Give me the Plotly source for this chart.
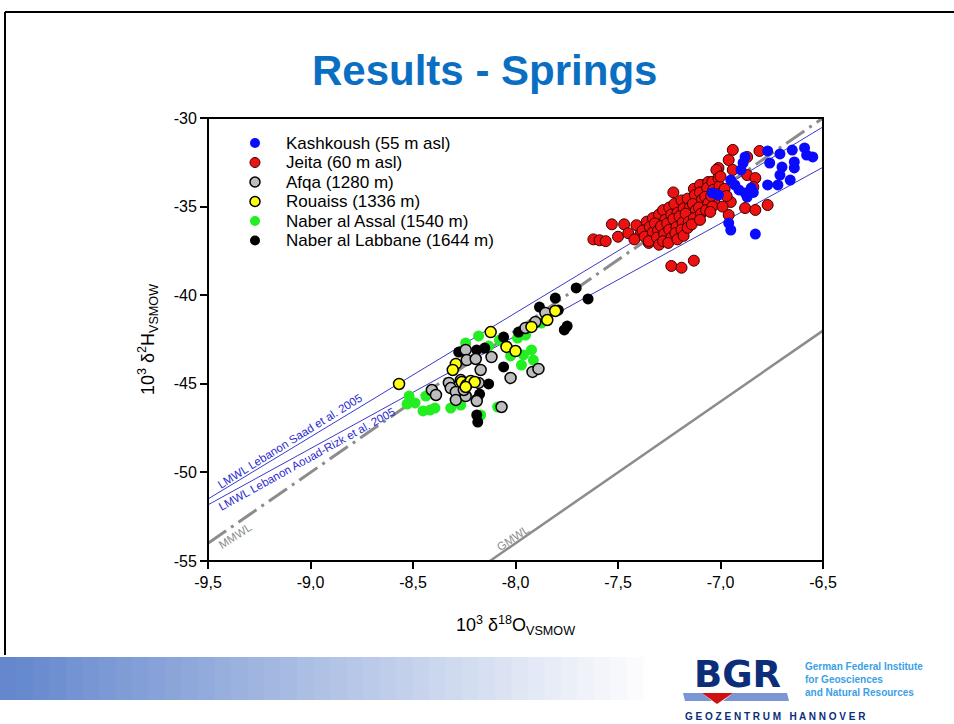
import plotly.graph_objects as go

# ---------------- data ----------------
kash_x = [-6.77, -6.71, -6.65, -6.59, -6.55, -6.58, -6.64, -6.64, -6.70, -6.71, -6.76, -6.77, -6.72, -6.66,
          -6.89, -6.90, -6.95, -6.93, -6.91, -6.88, -6.85, -6.87, -7.04, -7.01, -6.96, -6.95, -6.83, -6.88, -6.84]
kash_y = [-31.86, -32.03, -31.81, -31.69, -32.20, -32.09, -32.48, -32.82, -32.77, -33.22, -32.54, -33.78, -33.78, -33.50,
          -32.54, -32.93, -33.50, -33.78, -34.06, -34.23, -33.95, -34.46, -34.23, -34.35, -35.93, -36.32, -36.55, -32.20, -34.20]

jeita_x = [-7.62, -7.59, -7.56, -7.53, -7.47, -7.50, -7.45,
           -7.24, -7.19, -7.13, -7.23,
           -6.95, -6.88, -6.83, -6.77, -6.96,
           -6.81, -6.87, -6.96, -7.01, -6.94, -6.87, -6.83, -6.84,
           -7.03, -7.08, -7.10, -7.02, -7.13, -7.10, -7.06, -6.94,
           -7.41, -7.39, -7.42,
           -7.36, -7.38, -7.37, -7.35,
           -7.33, -7.345, -7.33, -7.35,
           -7.30, -7.32, -7.305, -7.31, -7.30,
           -7.28, -7.27, -7.29, -7.275, -7.28,
           -7.25, -7.24, -7.26, -7.25, -7.24, -7.255,
           -7.225, -7.21, -7.23, -7.215, -7.22, -7.21,
           -7.19, -7.18, -7.20, -7.185, -7.19, -7.18,
           -7.16, -7.15, -7.17, -7.155, -7.16,
           -7.125, -7.135, -7.12, -7.13, -7.14,
           -7.10, -7.09, -7.105, -7.095, -7.10,
           -7.065, -7.075, -7.06, -7.07,
           -7.04, -7.035, -7.045, -7.04,
           -7.01, -7.005, -7.015,
           -7.00, -6.98, -6.97, -6.99, -7.05]
jeita_y = [-36.85, -36.90, -36.95, -36.00, -36.00, -36.70, -36.50,
           -38.35, -38.45, -38.05, -34.20,
           -34.74, -35.08, -35.19, -34.91, -35.47,
           -31.86, -32.20, -32.37, -32.82, -32.93, -33.22, -33.39, -33.90,
           -34.74, -33.78, -34.74, -32.93, -34.00, -33.78, -33.61, -31.80,
           -36.05, -36.55, -36.85,
           -35.85, -36.35, -36.70, -37.05,
           -35.65, -36.15, -36.45, -36.95,
           -35.45, -35.95, -36.35, -36.75, -37.15,
           -35.20, -35.75, -36.10, -36.55, -36.95,
           -35.05, -35.45, -35.95, -36.30, -36.75, -37.05,
           -34.85, -35.35, -35.70, -36.15, -36.50, -36.85,
           -34.65, -35.10, -35.55, -35.90, -36.30, -36.65,
           -34.55, -35.05, -35.40, -35.85, -36.20,
           -34.35, -34.85, -35.20, -35.65, -36.00,
           -34.20, -34.60, -35.05, -35.40, -35.75,
           -33.95, -34.45, -34.80, -35.20,
           -33.60, -34.05, -34.40, -35.00,
           -33.40, -33.85, -34.30,
           -33.30, -34.00, -34.40, -35.00, -35.30]

afqa_x = [-8.243, -8.238, -8.194, -8.117, -8.170, -8.024, -7.917, -7.888, -8.068, -8.325, -8.316, -8.408,
          -8.388, -8.291, -8.291, -8.243, -8.189, -8.180, -7.951, -7.903, -7.854, -8.267, -8.252]
afqa_y = [-43.09, -43.66, -43.60, -43.49, -44.22, -44.67, -44.33, -44.16, -46.31, -44.95, -45.24, -45.35,
          -45.63, -45.46, -45.91, -45.69, -45.97, -44.95, -41.85, -41.51, -41.00, -44.79, -45.35]

rouaiss_x = [-8.568, -8.121, -8.044, -8.000, -7.922, -7.845, -7.806, -8.291, -8.306, -8.262, -8.238, -8.218, -8.199, -8.243]
rouaiss_y = [-45.01, -42.08, -42.92, -43.15, -41.79, -41.40, -40.89, -43.88, -44.22, -44.90, -45.07, -44.84, -44.90, -45.18]

assal_x = [-8.529, -8.490, -8.451, -8.417, -8.393, -8.437, -8.316, -8.267, -8.170, -8.087, -8.180, -8.243,
           -8.131, -8.078, -8.024, -7.961, -7.922, -7.913, -7.971, -7.990, -7.951, -7.874, -8.519]
assal_y = [-46.14, -46.08, -46.53, -46.48, -46.37, -45.69, -46.37, -46.20, -46.76, -46.31, -42.30, -42.70,
           -42.87, -42.53, -43.43, -43.37, -43.09, -43.66, -43.94, -42.42, -42.25, -41.57, -45.69]

labbane_x = [-7.704, -7.646, -7.806, -7.883, -7.791, -7.748, -7.762, -7.985, -8.058, -8.150, -8.189, -8.277,
             -8.058, -8.131, -8.175, -8.189, -8.189, -8.184]
labbane_y = [-39.59, -40.21, -40.16, -40.67, -40.84, -41.74, -41.96, -42.08, -42.36, -42.98, -43.09, -43.21,
             -44.05, -45.01, -45.58, -45.86, -46.76, -47.16]

series_names = ["Kashkoush (55 m asl)", "Jeita (60 m asl)", "Afqa (1280 m)", "Rouaiss (1336 m)",
                "Naber al Assal (1540 m)", "Naber al Labbane (1644 m)"]

# reference lines (end points)
gmwl_x = [-8.125, -6.5]
gmwl_y = [-55.0, -42.0]
mmwl_x = [-9.5, -6.5]
mmwl_y = [-54.0, -30.0]
saad_x = [-9.5, -6.5]
saad_y = [-51.5, -30.5]
aouad_x = [-9.5, -6.5]
aouad_y = [-51.83, -32.78]

x_ticks = [-9.5, -9.0, -8.5, -8.0, -7.5, -7.0, -6.5]
x_ticktext = ["-9,5", "-9,0", "-8,5", "-8,0", "-7,5", "-7,0", "-6,5"]
y_ticks = [-55, -50, -45, -40, -35, -30]
y_ticktext = ["-55", "-50", "-45", "-40", "-35", "-30"]

# ---------------- layout geometry helpers ----------------
W, H = 954, 724
L, R, T, B = 208, 823, 118, 561


def px(x):
    return (x - L) / (R - L)


def py(y):
    return (B - y) / (B - T)


FONT = "Liberation Sans, Arial, sans-serif"

fig = go.Figure()

# lines
fig.add_trace(go.Scatter(x=gmwl_x, y=gmwl_y, mode="lines", line=dict(color="#8c8c8c", width=2.5),
                         showlegend=False, hoverinfo="skip"))
fig.add_trace(go.Scatter(x=mmwl_x, y=mmwl_y, mode="lines",
                         line=dict(color="#8c8c8c", width=3, dash="22px,6px,3px,6px"),
                         showlegend=False, hoverinfo="skip"))
fig.add_trace(go.Scatter(x=saad_x, y=saad_y, mode="lines", line=dict(color="#3a3ac8", width=1),
                         showlegend=False, hoverinfo="skip"))
fig.add_trace(go.Scatter(x=aouad_x, y=aouad_y, mode="lines", line=dict(color="#3a3ac8", width=1),
                         showlegend=False, hoverinfo="skip"))

MS = 11
styles = {
    "kash": dict(color="#0a0aff", line=dict(width=0)),
    "jeita": dict(color="#ee1111", line=dict(color="#3a0000", width=1)),
    "afqa": dict(color="#bdbdbd", line=dict(color="#000000", width=1.5)),
    "rouaiss": dict(color="#ffff10", line=dict(color="#000000", width=1.5)),
    "assal": dict(color="#22ee22", line=dict(width=0)),
    "labbane": dict(color="#000000", line=dict(width=0)),
}
order = ["kash", "jeita", "afqa", "rouaiss", "assal", "labbane"]
data = {
    "kash": (kash_x, kash_y), "jeita": (jeita_x, jeita_y), "afqa": (afqa_x, afqa_y),
    "rouaiss": (rouaiss_x, rouaiss_y), "assal": (assal_x, assal_y), "labbane": (labbane_x, labbane_y),
}
draw_order = ["jeita", "kash", "assal", "labbane", "afqa", "rouaiss"]
for key in draw_order:
    xs, ys = data[key]
    fig.add_trace(go.Scatter(x=xs, y=ys, mode="markers", name=series_names[order.index(key)],
                             showlegend=False, marker=dict(size=MS, **styles[key])))

shapes = []
annotations = []

# custom legend (symbols + labels) at the reference spacing
for i, key in enumerate(order):
    cy = 143 + i * 19.5
    st = styles[key]
    lw = st["line"].get("width", 0)
    shapes.append(dict(type="circle", xref="paper", yref="paper",
                       x0=px(250), x1=px(260), y0=py(cy + 5), y1=py(cy - 5),
                       fillcolor=st["color"],
                       line=dict(color=st["line"].get("color", st["color"]), width=lw if lw else 0)))
    annotations.append(dict(text=series_names[i], xref="paper", yref="paper", x=px(284), y=py(cy),
                            xanchor="left", yanchor="middle", showarrow=False,
                            font=dict(family=FONT, size=17, color="black")))

# slide frame (top + left)
shapes.append(dict(type="line", xref="paper", yref="paper", x0=px(5), x1=px(954), y0=py(12), y1=py(12),
                   line=dict(color="black", width=2)))
shapes.append(dict(type="line", xref="paper", yref="paper", x0=px(5), x1=px(5), y0=py(12), y1=py(655),
                   line=dict(color="black", width=2)))
# plot frame
shapes.append(dict(type="rect", xref="paper", yref="paper", x0=0, x1=1, y0=0, y1=1,
                   line=dict(color="black", width=2)))
# gradient bar
N = 40
x_start, x_end = 0, 660
for i in range(N):
    t = i / (N - 1)
    r = int(100 + (255 - 100) * t)
    g = int(135 + (255 - 135) * t)
    b = int(205 + (255 - 205) * t)
    xa = x_start + (x_end - x_start) * i / N
    xb = x_start + (x_end - x_start) * (i + 1) / N + 0.5
    shapes.append(dict(type="rect", xref="paper", yref="paper", x0=px(xa), x1=px(xb), y0=py(700), y1=py(657),
                       line=dict(width=0), fillcolor=f"rgb({r},{g},{b})", layer="below"))
# logo bars and triangle
shapes.append(dict(type="path", xref="paper", yref="paper",
                   path=f"M {px(683)},{py(693)} L {px(702)},{py(693)} L {px(712)},{py(701)} L {px(685)},{py(701)} Z",
                   fillcolor="#7b96d4", line=dict(width=0)))
shapes.append(dict(type="path", xref="paper", yref="paper",
                   path=f"M {px(733)},{py(693)} L {px(787)},{py(693)} L {px(789)},{py(701)} L {px(723)},{py(701)} Z",
                   fillcolor="#7b96d4", line=dict(width=0)))
shapes.append(dict(type="path", xref="paper", yref="paper",
                   path=f"M {px(702)},{py(693)} L {px(733)},{py(693)} L {px(717)},{py(704)} Z",
                   fillcolor="#d01010", line=dict(width=0)))

# title
annotations.append(dict(text="<b>Results - Springs</b>", xref="paper", yref="paper", x=px(484), y=py(70),
                        showarrow=False, font=dict(family=FONT, size=42, color="#0a6fc2"),
                        xanchor="center", yanchor="middle"))
# line labels
annotations.append(dict(text="LMWL Lebanon Saad et al. 2005", xref="paper", yref="paper", x=px(290), y=py(441),
                        xanchor="center", yanchor="middle",
                        showarrow=False, textangle=-32, font=dict(family=FONT, size=11.5, color="#2b2bd0")))
annotations.append(dict(text="LMWL Lebanon Aouad-Rizk et al. 2005", xref="paper", yref="paper", x=px(307), y=py(459),
                        xanchor="center", yanchor="middle",
                        showarrow=False, textangle=-29, font=dict(family=FONT, size=11.5, color="#2b2bd0")))
annotations.append(dict(text="MMWL", xref="paper", yref="paper", x=px(235), y=py(536),
                        xanchor="center", yanchor="middle",
                        showarrow=False, textangle=-33, font=dict(family=FONT, size=11.5, color="#8c8c8c")))
annotations.append(dict(text="GMWL", xref="paper", yref="paper", x=px(513), y=py(538),
                        xanchor="center", yanchor="middle",
                        showarrow=False, textangle=-34, font=dict(family=FONT, size=11.5, color="#8c8c8c")))
# logo texts
annotations.append(dict(text="<b>BGR</b>", xref="paper", yref="paper", x=px(737), y=py(674),
                        showarrow=False, font=dict(family="DejaVu Sans, " + FONT, size=37, color="#0b2d7a"),
                        xanchor="center", yanchor="middle"))
annotations.append(dict(text="<b>German Federal Institute<br>for Geosciences<br>and Natural Resources</b>",
                        xref="paper", yref="paper", x=px(803), y=py(679), align="left",
                        showarrow=False, font=dict(family=FONT, size=10, color="#3b9fe6"),
                        xanchor="left", yanchor="middle"))
annotations.append(dict(text="<b>G E O Z E N T R U M   H A N N O V E R</b>", xref="paper", yref="paper",
                        x=px(683), y=py(716), showarrow=False, xanchor="left", yanchor="middle",
                        font=dict(family=FONT, size=10, color="#0b2d7a")))

fig.update_layout(
    width=W, height=H,
    margin=dict(l=L, r=W - R, t=T, b=H - B, pad=0),
    paper_bgcolor="white", plot_bgcolor="white",
    font=dict(family=FONT, size=14, color="black"),
    shapes=shapes, annotations=annotations,
    showlegend=False,
    xaxis=dict(range=[-9.5, -6.5], tickvals=x_ticks, ticktext=x_ticktext, ticks="outside", ticklen=7,
               tickwidth=1.5, tickcolor="black", showgrid=False, zeroline=False, showline=False,
               tickfont=dict(size=16), title=dict(text="10<sup>3</sup> δ<sup>18</sup>O<sub>VSMOW</sub>",
                                                  font=dict(size=18), standoff=28)),
    yaxis=dict(range=[-55, -30], tickvals=y_ticks, ticktext=y_ticktext, ticks="outside", ticklen=7,
               tickwidth=1.5, tickcolor="black", showgrid=False, zeroline=False, showline=False,
               tickfont=dict(size=16),
               title=dict(text="10<sup>3</sup> δ<sup>2</sup>H<sub>VSMOW</sub>", font=dict(size=18), standoff=14)),
)

fig.write_html("out.html", config={"displayModeBar": False},
               post_script="document.body.style.margin='0px';")
